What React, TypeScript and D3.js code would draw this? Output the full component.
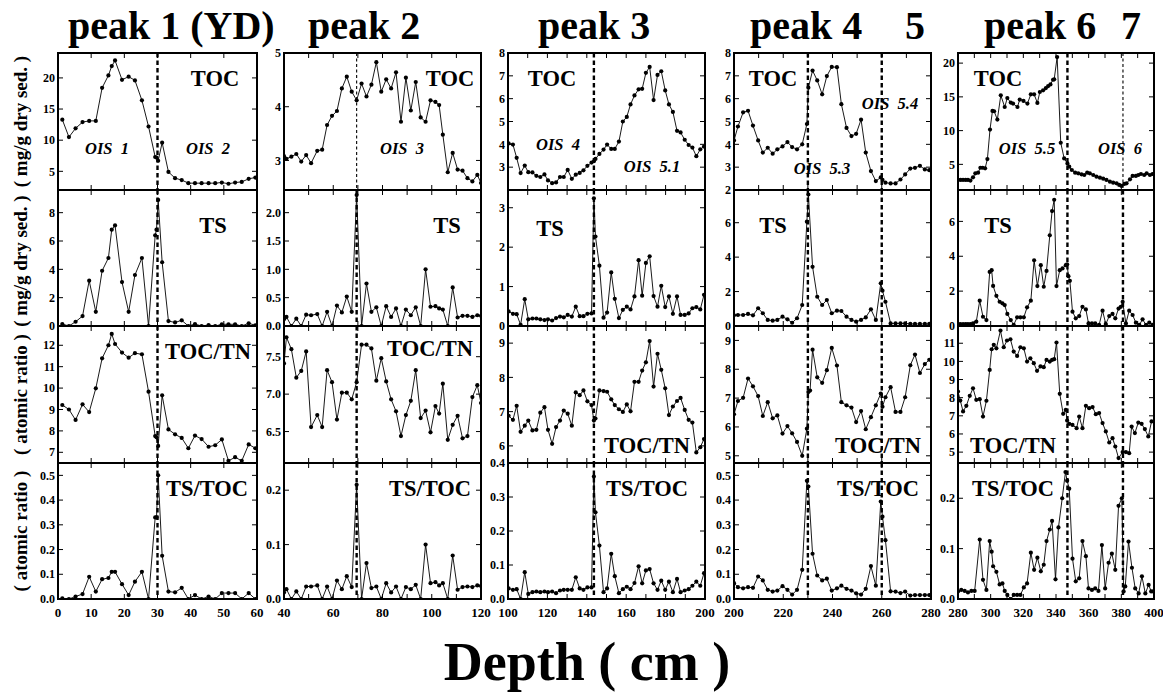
import React from 'react';
import * as d3 from 'd3';

// ---------- peak 1 (YD): 0-60 cm ----------
const depth1 = [1.3, 3.3, 5.3, 7.4, 9.4, 11.4, 13.3, 15.2, 16.2, 17.2, 19.3, 21.3, 23.2, 25.3, 27.3, 29.3, 29.7, 30.2, 31.4, 33.3, 35.3, 37.3, 39.3, 41.3, 43.3, 45.4, 47.4, 49.4, 51.4, 53.4, 55.4, 57.5, 59.5];
const toc1 = [13.3, 10.5, 11.9, 12.9, 13.1, 13.1, 18.4, 20.4, 21.9, 22.8, 19.7, 20.2, 19.6, 16.4, 12.2, 7.3, 7.2, 6.7, 9.6, 4.9, 3.9, 3.6, 3.1, 3.1, 3.1, 3.1, 3.1, 3.2, 3.0, 3.2, 3.3, 3.8, 4.0];
const ts1 = [0.14, 0.0, 0.3, 0.7, 3.2, 1.0, 3.9, 4.8, 6.8, 7.1, 3.1, 1.0, 3.6, 4.8, 0.0, 6.4, 6.8, 8.9, 4.5, 0.35, 0.25, 0.4, 0.0, 0.14, 0.0, 0.07, 0.0, 0.12, 0.12, 0.12, 0.0, 0.19, 0.05];
const tocTn1 = [9.21, 9.0, 8.51, 9.24, 8.88, 9.99, 11.39, 12.0, 12.53, 12.06, 11.66, 11.42, 11.63, 11.58, 9.83, 7.76, 7.7, 7.3, 9.66, 8.07, 7.84, 7.67, 7.19, 7.78, 7.62, 7.26, 7.33, 7.6, 6.6, 6.77, 6.6, 7.37, 7.19];
const tsToc1 = [0.003, 0, 0.01, 0.02, 0.09, 0.03, 0.08, 0.085, 0.11, 0.11, 0.06, 0.016, 0.07, 0.11, 0, 0.33, 0.33, 0.5, 0.175, 0.03, 0.027, 0.045, 0, 0.016, 0, 0.01, 0, 0.024, 0.024, 0.024, 0, 0.024, 0];

// ---------- peak 2: 40-120 cm ----------
const depth2 = [40, 41, 43, 45, 47, 49, 51, 53.5, 55.5, 57.5, 59.5, 61.5, 63.5, 65.5, 67.5, 69.5, 71.5, 73.5, 75.5, 77.5, 79.5, 81.5, 83.5, 85.5, 87.5, 89.5, 91.5, 93.5, 95.5, 97.5, 99.5, 101.5, 103, 104.5, 106.5, 108.5, 110.5, 112.5, 114.5, 116.5, 118.5, 120];
const toc2 = [3.08, 3.03, 3.07, 3.12, 2.98, 3.10, 2.95, 3.18, 3.2, 3.66, 3.83, 3.92, 4.34, 4.56, 4.28, 4.12, 4.43, 4.19, 4.41, 4.83, 4.28, 4.51, 4.34, 4.64, 3.72, 4.54, 3.93, 4.46, 3.8, 3.72, 4.12, 4.09, 4.03, 3.48, 2.78, 3.14, 2.83, 2.81, 2.67, 2.61, 2.73, 2.58];
const ts2 = [0.12, 0.16, 0, 0.13, 0, 0.2, 0.19, 0.21, 0, 0.25, 0, 0.36, 0.24, 0.52, 0.25, 2.31, 0, 0.75, 0.25, 0.33, 0, 0.35, 0.16, 0.31, 0, 0.29, 0.19, 0.33, 0, 1.0, 0.34, 0.35, 0.31, 0.29, 0, 0.68, 0.15, 0.18, 0.18, 0.16, 0.19, 0.18];
const tocTn2 = [7.41, 7.76, 7.6, 7.22, 7.31, 7.57, 6.56, 6.72, 6.56, 7.32, 7.16, 6.66, 7.02, 7.02, 6.93, 7.16, 7.66, 7.66, 7.61, 7.18, 7.48, 7.17, 6.93, 6.77, 6.44, 6.72, 6.91, 7.32, 6.68, 6.78, 6.49, 6.84, 6.74, 7.14, 6.39, 6.59, 6.71, 6.41, 6.44, 6.96, 7.12, 6.88];
const tsToc2 = [0.012, 0.018, 0, 0.014, 0, 0.023, 0.023, 0.025, 0, 0.023, 0, 0.034, 0.018, 0.042, 0.022, 0.21, 0, 0.066, 0.02, 0.023, 0, 0.029, 0.012, 0.023, 0, 0.022, 0.018, 0.026, 0, 0.1, 0.029, 0.031, 0.025, 0.029, 0, 0.08, 0.017, 0.022, 0.023, 0.022, 0.025, 0.024];

// ---------- peak 3: 100-200 cm ----------
const depth3 = [100.3, 102.5, 104.4, 106.4, 108.5, 110.3, 112.4, 114.4, 116.4, 118.5, 120.3, 122.4, 124.4, 126.4, 128.3, 130.3, 132.4, 134.4, 136.4, 138.3, 140.3, 142.4, 143.6, 144.4, 146.4, 148.5, 150.3, 152.4, 154.2, 156.3, 158.3, 160.3, 162.2, 164.2, 166.3, 168.1, 170, 171.9, 173.9, 175.9, 177.8, 179.8, 181.7, 183.7, 185.8, 187.6, 189.7, 191.7, 193.6, 195.6, 197.6, 199.5];
const toc3 = [4.04, 3.99, 3.41, 2.74, 3.07, 2.78, 2.77, 2.62, 2.57, 2.68, 2.42, 2.30, 2.33, 2.57, 2.57, 2.88, 2.49, 2.67, 2.75, 2.86, 3.06, 3.20, 3.26, 3.36, 3.58, 3.77, 3.99, 3.8, 3.8, 4.12, 5.0, 5.2, 5.75, 6.14, 6.41, 6.43, 7.13, 7.39, 5.94, 7.04, 7.2, 6.36, 5.75, 5.42, 4.59, 4.52, 4.2, 3.97, 3.86, 3.48, 3.78, 3.9];
const ts3 = [0.37, 0.31, 0.3, 0.03, 0.68, 0.17, 0.19, 0.19, 0.17, 0.15, 0.17, 0.14, 0.2, 0.24, 0.22, 0.28, 0.24, 0.49, 0.25, 0.25, 0.31, 0.32, 3.24, 2.27, 1.53, 0.21, 0.34, 1.36, 0.69, 0.2, 0.41, 0.49, 0.42, 0.75, 1.67, 0.77, 1.6, 1.77, 0.76, 0.49, 1.02, 0.48, 0.75, 0.31, 0.75, 0.28, 0.28, 0.32, 0.45, 0.48, 0.42, 0.79];
const tocTn3 = [6.88, 6.76, 7.17, 6.41, 6.59, 6.74, 6.45, 6.47, 6.97, 7.13, 6.47, 6.06, 6.55, 6.74, 7.03, 6.94, 6.59, 7.56, 7.48, 7.62, 7.3, 7.19, 6.74, 6.8, 7.62, 7.6, 7.58, 7.36, 7.19, 7.07, 6.99, 7.21, 7.01, 7.87, 7.87, 8.2, 8.44, 9.06, 7.73, 8.69, 8.22, 7.68, 6.9, 7.15, 7.31, 7.4, 7.05, 6.76, 6.68, 5.81, 5.96, 6.2];
const tsToc3 = [0.031, 0.027, 0.029, 0, 0.079, 0.015, 0.02, 0.022, 0.02, 0.022, 0.02, 0.022, 0.017, 0.025, 0.027, 0.027, 0.027, 0.064, 0.031, 0.027, 0.034, 0.034, 0.36, 0.255, 0.157, 0.02, 0.031, 0.133, 0.067, 0.017, 0.029, 0.036, 0.029, 0.047, 0.096, 0.046, 0.084, 0.088, 0.046, 0.027, 0.054, 0.027, 0.051, 0.02, 0.059, 0.02, 0.025, 0.029, 0.039, 0.051, 0.039, 0.076];

// ---------- peak 4 / 5: 200-280 cm (null = not measured) ----------
const depth4 = [200, 201.6, 203.7, 205.7, 207.7, 209.8, 211.7, 213.7, 215.7, 217.6, 219.7, 221.7, 223.6, 225.6, 227.7, 229.6, 230.2, 230.9, 231.9, 233.8, 235.8, 237.7, 239.7, 241.8, 243.6, 245.7, 247.7, 249.6, 251.6, 253.5, 255.6, 257.6, 259.6, 260.3, 261.5, 263.6, 265.6, 267.6, 269.5, 271.6, 273.5, 275.5, 277.5, 279.3];
const toc4 = [4.17, 4.78, 5.4, 5.47, 4.82, 4.17, 3.64, 3.85, 3.59, 3.78, 3.91, 4.1, 3.88, 3.78, 4.0, 4.89, 6.48, null, 7.23, 6.8, 6.19, 6.99, 7.39, 7.38, 5.76, 4.72, 4.36, 4.46, 5.08, 3.64, 2.83, 2.39, 2.55, 2.44, 2.32, 2.29, 2.29, 2.46, 2.68, 2.94, 2.97, 3.06, 2.9, 2.87];
const ts4 = [0.62, 0.64, 0.64, 0.7, 0.62, 1.03, 0.74, 0.35, 0.31, 0.35, 0.54, 0.39, 0.19, 0.45, 1.22, 6.06, 7.64, null, 3.44, 1.7, 1.22, 1.51, 0.74, 0.89, 0.87, 0.54, 0.35, 0.25, 0.35, 0.5, 0.97, 0.35, 2.48, 2.05, 1.41, 0.15, 0.15, 0.15, 0.15, 0.12, 0.12, 0.12, 0.12, 0.12];
const tocTn4 = [6.44, 6.9, 7.01, 7.68, 7.41, 7.07, 6.38, 6.86, 6.3, 6.4, 5.77, 6.03, 5.78, 5.48, 5.0, 5.94, 7.21, 7.26, 8.68, 7.72, 7.53, 7.97, 8.74, 8.13, 6.86, 6.75, 6.67, 6.17, 6.55, 5.92, 6.34, 6.75, 7.16, 6.7, 7.03, 7.38, 6.52, 6.52, 7.03, 8.14, 8.51, 7.87, 8.18, 8.33];
const tsToc4 = [0.064, 0.048, 0.043, 0.048, 0.045, 0.091, 0.075, 0.037, 0.03, 0.034, 0.052, 0.037, 0.018, 0.037, 0.118, 0.478, 0.455, null, 0.183, 0.095, 0.075, 0.082, 0.034, 0.043, 0.054, 0.041, 0.034, 0.023, 0.018, 0.041, 0.133, 0.054, 0.394, 0.333, 0.238, 0.031, 0.03, 0.024, 0.03, 0.014, 0.016, 0.016, 0.016, 0.016];

// ---------- peak 6 / 7: 280-400 cm (each series sampled separately) ----------
const depth5Toc = [280.0, 281.6, 283.1, 284.7, 286.1, 287.6, 289.2, 290.6, 292.3, 293.7, 295.1, 296.6, 298, 299.6, 301.1, 302.1, 304.1, 306.2, 308.6, 310.2, 312.3, 313.7, 316.4, 317.8, 320.1, 322.5, 324.6, 326.6, 328.6, 330.1, 332.1, 333.8, 335.2, 336.6, 338.2, 338.9, 340.7, 342.9, 345, 347, 348.1, 349.7, 351.7, 353.6, 355.6, 357.3, 359.1, 360.7, 362.8, 364.8, 366.9, 368.9, 370.9, 373, 375, 377.1, 378.7, 380.1, 381.8, 383.2, 385.3, 386.9, 388.9, 390.4, 392, 394, 395.5, 397.5, 399.1];
const toc5 = [2.69, 2.69, 2.69, 2.69, 2.69, 2.59, 3.08, 3.67, 3.77, 4.5, 4.5, 4.41, 5.78, 10.16, 12.92, 12.87, 11.64, 15.23, 13.5, 14.83, 14.15, 14.0, 13.5, 14.6, 14.4, 14.0, 15.38, 15.38, 14.1, 15.72, 15.97, 16.31, 16.6, 16.85, 17.54, 17.6, 20.9, 8.2, 5.88, 5.14, 4.65, 4.16, 3.77, 3.67, 3.52, 3.42, 3.77, 3.67, 3.42, 3.18, 3.03, 2.88, 2.69, 2.44, 2.29, 2.19, 1.95, 1.8, 2.1, 2.19, 2.78, 3.28, 3.28, 3.42, 3.57, 3.42, 3.67, 3.42, 3.57];
const depth5Ts = [280, 281.4, 283.1, 284.7, 286.1, 287.6, 289.2, 291.2, 293.3, 295.3, 297.4, 299.4, 300.6, 301.5, 303.5, 305.5, 307.2, 308.6, 310.2, 312.3, 314.1, 316.2, 318.2, 320.3, 322.3, 324.6, 326.6, 328.6, 330.7, 332.5, 334.2, 336.2, 337.6, 338.9, 340.3, 342.3, 344, 346, 346.8, 347.6, 348.5, 350.1, 352.1, 354.2, 356.2, 358.3, 359.9, 362, 364, 366.4, 368.5, 370.5, 372.6, 374.6, 376.3, 378.3, 379.7, 380.8, 382.8, 384.8, 386.9, 388.9, 391, 393, 395.1, 397.1, 399.1];
const ts5 = [0.11, 0.11, 0.11, 0.11, 0.11, 0.11, 0.15, 0.25, 1.45, 0.53, 0.34, 3.1, 3.2, 2.3, 1.73, 1.39, 1.3, 1.2, 0.69, 0.34, 0.06, 0.5, 0.5, 0.5, 1.07, 1.45, 3.77, 2.29, 3.49, 2.25, 3.16, 5.2, 6.59, 7.24, 2.29, 3.2, 3.3, 3.49, 3.54, 2.86, 2.59, 0.82, 0.44, 0.57, 1.1, 0.95, 0.15, 0.15, 0.15, 0.06, 0.88, 0.11, 0.57, 0.69, 0.44, 1.0, 1.1, 1.39, 0.15, 0.88, 0.63, 0.19, 0.06, 0.38, 0.06, 0.19, 0.06];
const depth5TocTn = [280, 281.4, 283.1, 285.1, 287.2, 289.2, 291.2, 293.3, 295.3, 297.4, 299.4, 300.6, 301.9, 303.5, 306, 308, 310, 312.1, 314.1, 316.2, 318.2, 320.3, 322.3, 324.3, 326.4, 328.4, 330.5, 332.5, 334.2, 336.2, 337.6, 338.9, 340.3, 342.3, 344.4, 346, 346.8, 348.1, 350.1, 352.6, 354.2, 356.2, 358.3, 360.3, 362.4, 364.4, 366.4, 368.5, 370.5, 372.6, 374.6, 376.3, 378.3, 380.8, 382.8, 384.8, 386.3, 388.3, 390.4, 392.4, 394.4, 396.5, 398.5];
const tocTn5 = [8.34, 7.84, 7.24, 7.55, 8.1, 8.52, 7.88, 7.92, 6.96, 7.83, 9.53, 10.67, 10.91, 10.72, 11.7, 10.78, 11.15, 11.22, 10.54, 10.3, 10.78, 10.72, 9.99, 10.17, 9.9, 9.48, 9.72, 9.68, 10.08, 9.99, 10.08, 10.12, 11.04, 8.21, 7.11, 7.33, 6.74, 6.56, 6.5, 6.32, 6.96, 6.32, 7.55, 7.42, 7.48, 7.09, 7.15, 6.6, 6.14, 5.53, 5.77, 5.31, 4.67, 5.0, 5.0, 4.94, 6.41, 6.05, 6.63, 6.56, 6.27, 5.86, 6.69];
const depth5TsToc = [280, 282, 284.1, 286.1, 288.2, 290.2, 293.3, 295.3, 297.4, 299.4, 300.6, 301.5, 303.5, 305.5, 307.2, 308.6, 310.2, 312.3, 314.1, 316.2, 318.2, 320.3, 322.3, 324.6, 326.6, 328.6, 330.7, 332.5, 334.2, 336.2, 337.6, 339.7, 341.5, 343.8, 345.8, 346.8, 348.1, 350.1, 352.1, 354.2, 356.2, 358.3, 359.9, 362, 364, 366, 368.1, 370.1, 372.2, 374.2, 376.3, 378.3, 380.3, 381.4, 382.4, 384.4, 386.5, 388.5, 390.6, 392.6, 394.7, 396.7, 398.3, 399.6];
const tsToc5 = [0.015, 0.018, 0.016, 0.013, 0.016, 0.016, 0.118, 0.038, 0.018, 0.115, 0.094, 0.065, 0.054, 0.029, 0.031, 0.016, 0.008, 0, 0.008, 0.008, 0.008, 0.023, 0.031, 0.092, 0.058, 0.082, 0.055, 0.068, 0.115, 0.138, 0.155, 0.039, 0.142, 0.2, 0.252, 0.235, 0.219, 0.08, 0.035, 0.041, 0.115, 0.085, 0.021, 0.018, 0.021, 0.016, 0.107, 0.021, 0.072, 0.09, 0.058, 0.185, 0.2, 0.015, 0.025, 0.114, 0.062, 0.021, 0.011, 0.045, 0.011, 0.028, 0.015, 0.015];

// ---------- layout ----------
const W = 1163;
const H = 693;
const rowTop = [53, 190, 326, 463];
const rowBot = [190, 326, 463, 599];
const FONT = "'Liberation Serif', 'Times New Roman', Times, serif";

type PanelSpec = {
  depth: number[];
  values: (number | null)[];
  yDomain: [number, number];
  yTicks: number[];
  digits: number;
  label: string;
  lx: number;
  ly: number;
};

type EventLine = { d: number; thinRows: number[] };

type ColSpec = {
  x0: number;
  x1: number;
  xDomain: [number, number];
  xLabels: number[];
  events: EventLine[];
  panels: PanelSpec[];
};

const columns: ColSpec[] = [
  {
    x0: 58, x1: 257, xDomain: [0, 60], xLabels: d3.range(0, 61, 10),
    events: [{ d: 30, thinRows: [] }],
    panels: [
      { depth: depth1, values: toc1, yDomain: [2, 24], yTicks: [5, 10, 15, 20], digits: 0, label: 'TOC', lx: 215, ly: 78 },
      { depth: depth1, values: ts1, yDomain: [0, 9.6], yTicks: [0, 2, 4, 6, 8], digits: 0, label: 'TS', lx: 213, ly: 225 },
      { depth: depth1, values: tocTn1, yDomain: [6.5, 12.9], yTicks: [7, 8, 9, 10, 11, 12], digits: 0, label: 'TOC/TN', lx: 208, ly: 351 },
      { depth: depth1, values: tsToc1, yDomain: [0, 0.55], yTicks: [0, 0.1, 0.2, 0.3, 0.4, 0.5], digits: 1, label: 'TS/TOC', lx: 207, ly: 488 },
    ],
  },
  {
    x0: 284, x1: 481, xDomain: [40, 120], xLabels: d3.range(40, 121, 20),
    events: [{ d: 69.5, thinRows: [0] }],
    panels: [
      { depth: depth2, values: toc2, yDomain: [2.45, 5], yTicks: [3, 4, 5], digits: 0, label: 'TOC', lx: 450, ly: 78 },
      { depth: depth2, values: ts2, yDomain: [0, 2.4], yTicks: [0, 0.5, 1, 1.5, 2], digits: 1, label: 'TS', lx: 447, ly: 225 },
      { depth: depth2, values: tocTn2, yDomain: [6.08, 7.91], yTicks: [6.5, 7, 7.5], digits: 1, label: 'TOC/TN', lx: 430, ly: 348 },
      { depth: depth2, values: tsToc2, yDomain: [0, 0.25], yTicks: [0, 0.1, 0.2], digits: 1, label: 'TS/TOC', lx: 430, ly: 488 },
    ],
  },
  {
    x0: 508, x1: 705, xDomain: [100, 200], xLabels: d3.range(100, 201, 20),
    events: [{ d: 143.6, thinRows: [] }],
    panels: [
      { depth: depth3, values: toc3, yDomain: [2, 8], yTicks: [3, 4, 5, 6, 7, 8], digits: 0, label: 'TOC', lx: 552, ly: 78 },
      { depth: depth3, values: ts3, yDomain: [0, 3.45], yTicks: [0, 1, 2, 3], digits: 0, label: 'TS', lx: 550, ly: 228 },
      { depth: depth3, values: tocTn3, yDomain: [5.5, 9.5], yTicks: [6, 7, 8, 9], digits: 0, label: 'TOC/TN', lx: 647, ly: 445 },
      { depth: depth3, values: tsToc3, yDomain: [0, 0.4], yTicks: [0, 0.1, 0.2, 0.3, 0.4], digits: 1, label: 'TS/TOC', lx: 647, ly: 488 },
    ],
  },
  {
    x0: 734, x1: 931, xDomain: [200, 280], xLabels: d3.range(200, 281, 20),
    events: [{ d: 230, thinRows: [] }, { d: 260, thinRows: [] }],
    panels: [
      { depth: depth4, values: toc4, yDomain: [2, 8], yTicks: [2, 3, 4, 5, 6, 7, 8], digits: 0, label: 'TOC', lx: 773, ly: 78 },
      { depth: depth4, values: ts4, yDomain: [0, 7.9], yTicks: [0, 2, 4, 6], digits: 0, label: 'TS', lx: 773, ly: 225 },
      { depth: depth4, values: tocTn4, yDomain: [4.75, 9.5], yTicks: [5, 6, 7, 8, 9], digits: 0, label: 'TOC/TN', lx: 878, ly: 445 },
      { depth: depth4, values: tsToc4, yDomain: [0, 0.55], yTicks: [0, 0.1, 0.2, 0.3, 0.4, 0.5], digits: 1, label: 'TS/TOC', lx: 878, ly: 488 },
    ],
  },
  {
    x0: 958, x1: 1154, xDomain: [280, 400], xLabels: d3.range(280, 401, 20),
    events: [{ d: 347, thinRows: [] }, { d: 381, thinRows: [0] }],
    panels: [
      { depth: depth5Toc, values: toc5, yDomain: [1.2, 21.5], yTicks: [5, 10, 15, 20], digits: 0, label: 'TOC', lx: 998, ly: 78 },
      { depth: depth5Ts, values: ts5, yDomain: [0, 7.8], yTicks: [0, 2, 4, 6], digits: 0, label: 'TS', lx: 998, ly: 225 },
      { depth: depth5TocTn, values: tocTn5, yDomain: [4.4, 11.95], yTicks: [5, 6, 7, 8, 9, 10, 11], digits: 0, label: 'TOC/TN', lx: 1013, ly: 445 },
      { depth: depth5TsToc, values: tsToc5, yDomain: [0, 0.27], yTicks: [0, 0.1, 0.2], digits: 1, label: 'TS/TOC', lx: 1013, ly: 488 },
    ],
  },
];

const titles = [
  { text: 'peak 1 (YD)', x: 68 },
  { text: 'peak 2', x: 308 },
  { text: 'peak 3', x: 538 },
  { text: 'peak 4', x: 750 },
  { text: '5', x: 905 },
  { text: 'peak 6', x: 984 },
  { text: '7', x: 1121 },
];

const stageLabels = [
  { text: 'OIS  1', x: 107, y: 148 },
  { text: 'OIS  2', x: 208, y: 148 },
  { text: 'OIS  3', x: 402, y: 148 },
  { text: 'OIS  4', x: 558, y: 144 },
  { text: 'OIS  5.1', x: 652, y: 166 },
  { text: 'OIS  5.3', x: 822, y: 168 },
  { text: 'OIS  5.4', x: 890, y: 103 },
  { text: 'OIS  5.5', x: 1027, y: 148 },
  { text: 'OIS  6', x: 1120, y: 148 },
];

const yTitles = [
  { text: '( mg/g dry sed. )', row: 0 },
  { text: '( mg/g dry sed. )', row: 1 },
  { text: '( atomic ratio )', row: 2 },
  { text: '( atomic ratio )', row: 3 },
];

function Panel({ col, row, spec, ci }: { col: ColSpec; row: number; spec: PanelSpec; ci: number }) {
  const top = rowTop[row];
  const bot = rowBot[row];
  const x = d3.scaleLinear().domain(col.xDomain).range([col.x0, col.x1]);
  const y = d3.scaleLinear().domain(spec.yDomain).range([bot, top]);
  const pts: [number, number][] = [];
  spec.depth.forEach((d, i) => {
    const v = spec.values[i];
    if (v !== null && v !== undefined) pts.push([d, v]);
  });
  const line = d3.line<[number, number]>().x((p) => x(p[0])).y((p) => y(p[1]));
  const clipId = `clip-${ci}-${row}`;
  const xTickVals = d3.range(col.xDomain[0], col.xDomain[1] + 0.001, 10);
  const tl = 5;
  return (
    <g>
      <defs>
        <clipPath id={clipId}>
          <rect x={col.x0} y={top} width={col.x1 - col.x0} height={bot - top} />
        </clipPath>
      </defs>
      <g clipPath={`url(#${clipId})`}>
        {col.events.map((e, k) => {
          const thin = e.thinRows.includes(row);
          return (
            <line
              key={k}
              x1={x(e.d)}
              x2={x(e.d)}
              y1={top}
              y2={bot}
              stroke="#000"
              strokeWidth={thin ? 1.1 : 2.4}
              strokeDasharray={thin ? '3,2.5' : '4.5,3'}
            />
          );
        })}
        <path d={line(pts) || ''} fill="none" stroke="#000" strokeWidth={0.9} />
        {pts.map((p, k) => (
          <circle key={k} cx={x(p[0])} cy={y(p[1])} r={2.1} fill="#000" />
        ))}
      </g>
      {/* inward ticks */}
      {xTickVals.map((t) => (
        <g key={`xt${t}`} stroke="#000" strokeWidth={1}>
          <line x1={x(t)} x2={x(t)} y1={top} y2={top + tl} />
          <line x1={x(t)} x2={x(t)} y1={bot} y2={bot - tl} />
        </g>
      ))}
      {spec.yTicks.map((t) => (
        <g key={`yt${t}`} stroke="#000" strokeWidth={1}>
          <line x1={col.x0} x2={col.x0 + tl} y1={y(t)} y2={y(t)} />
          <line x1={col.x1} x2={col.x1 - tl} y1={y(t)} y2={y(t)} />
        </g>
      ))}
      {spec.yTicks.map((t) => (
        <text
          key={`yl${t}`}
          x={col.x0 - 3}
          y={y(t)}
          dy="0.35em"
          textAnchor="end"
          fontSize={12}
          fontWeight="bold"
        >
          {d3.format(`.${spec.digits}f`)(t)}
        </text>
      ))}
      <rect x={col.x0} y={top} width={col.x1 - col.x0} height={bot - top} fill="none" stroke="#000" strokeWidth={2} />
      <text x={spec.lx} y={spec.ly + 7.5} textAnchor="middle" fontSize={22.5} fontWeight="bold">
        {spec.label}
      </text>
    </g>
  );
}

export default function App() {
  return (
    <svg
      width={W}
      height={H}
      viewBox={`0 0 ${W} ${H}`}
      style={{ position: 'absolute', left: 0, top: 0, background: '#fff' }}
      fontFamily={FONT}
    >
      <rect x={0} y={0} width={W} height={H} fill="#fff" />
      {columns.map((col, ci) => (
        <g key={ci}>
          {col.panels.map((p, ri) => (
            <Panel key={ri} col={col} row={ri} spec={p} ci={ci} />
          ))}
          {col.xLabels.map((t) => {
            const x = d3.scaleLinear().domain(col.xDomain).range([col.x0, col.x1]);
            return (
              <text key={t} x={x(t)} y={617} textAnchor="middle" fontSize={13} fontWeight="bold">
                {t}
              </text>
            );
          })}
        </g>
      ))}
      {stageLabels.map((s, i) => (
        <text
          key={i}
          x={s.x}
          y={s.y + 5.5}
          textAnchor="middle"
          fontSize={16.5}
          fontWeight="bold"
          fontStyle="italic"
          style={{ whiteSpace: 'pre' }}
        >
          {s.text}
        </text>
      ))}
      {titles.map((t, i) => (
        <text key={i} x={t.x} y={39} fontSize={40} fontWeight="bold">
          {t.text}
        </text>
      ))}
      {yTitles.map((t, i) => {
        const cy = (rowTop[t.row] + rowBot[t.row]) / 2 + (t.row === 1 ? 3 : 0);
        return (
          <text
            key={i}
            transform={`translate(27,${cy}) rotate(-90)`}
            textAnchor="middle"
            fontSize={19}
            fontWeight="bold"
          >
            {t.text}
          </text>
        );
      })}
      <text x={587} y={680} textAnchor="middle" fontSize={54} fontWeight="bold">
        Depth ( cm )
      </text>
    </svg>
  );
}
